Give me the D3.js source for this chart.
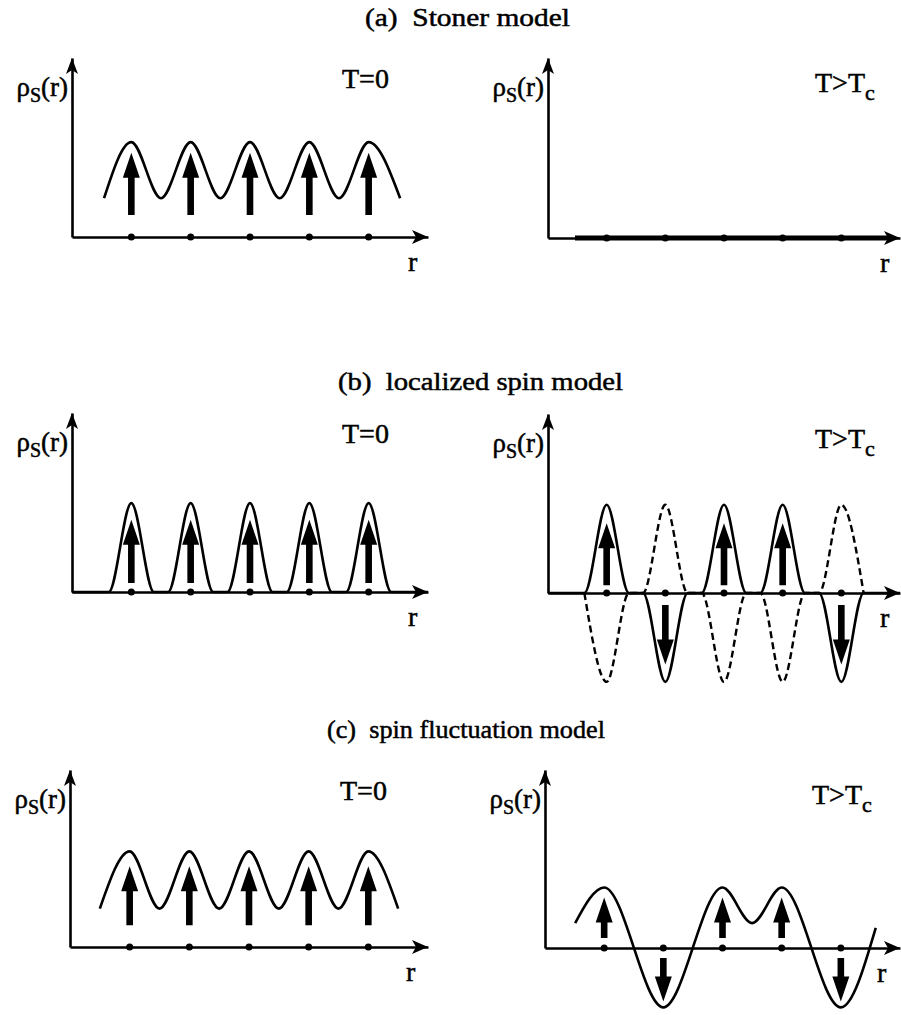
<!DOCTYPE html>
<html>
<head>
<meta charset="utf-8">
<script src="https://cdn.jsdelivr.net/npm/d3@7"></script>
<style>
body { margin: 0; background: #fff; }
text { font-family: "Liberation Serif", "Times New Roman", serif; fill: #000; stroke: #000; stroke-width: 0.5; white-space: pre; }
</style>
</head>
<body>
<script>
// lattice sites along r
var sites = [1, 2, 3, 4, 5];

// (a) Stoner model : [r, rho]
var stonerT0 = [[0.54, 0.65], [1, 1.59], [1.5, 0.65], [2, 1.59], [2.5, 0.65], [3, 1.59],
                [3.5, 0.65], [4, 1.59], [4.5, 0.65], [5, 1.59], [5.53, 0.65]];
var stonerT0Arrows = [[1, 0.37, 1.41], [2, 0.37, 1.41], [3, 0.37, 1.41], [4, 0.37, 1.41], [5, 0.37, 1.41]];
var stonerHighT = [[0.46, 0], [5.85, 0]];

// (b) localized spin model
var localT0 = [[0, 0], [0.62, 0], [1, 1.49], [1.38, 0], [1.62, 0], [2, 1.49], [2.38, 0],
               [2.62, 0], [3, 1.49], [3.38, 0], [3.62, 0], [4, 1.49], [4.38, 0],
               [4.62, 0], [5, 1.49], [5.38, 0], [6, 0]];
var localT0Arrows = [[1, 0.15, 1.21], [2, 0.15, 1.21], [3, 0.15, 1.21], [4, 0.15, 1.21], [5, 0.15, 1.21]];
var localHighT = [[0, 0], [0.62, 0], [1, 1.48], [1.38, 0], [1.62, 0], [2, -1.49], [2.38, 0],
                  [2.62, 0], [3, 1.48], [3.38, 0], [3.62, 0], [4, 1.48], [4.38, 0],
                  [4.62, 0], [5, -1.49], [5.38, 0], [6, 0]];
var localHighTDash = [[0.62, 0], [1, -1.49], [1.38, 0], [1.62, 0], [2, 1.48], [2.38, 0],
                      [2.62, 0], [3, -1.49], [3.38, 0], [3.62, 0], [4, -1.49], [4.38, 0],
                      [4.62, 0], [5, 1.48], [5.38, 0]];
var localHighTArrows = [[1, 0.13, 1.17], [2, -0.2, -1.2], [3, 0.13, 1.17], [4, 0.13, 1.17], [5, -0.2, -1.2]];

// (c) spin fluctuation model
var fluctT0 = [[0.5, 0.65], [1, 1.62], [1.5, 0.65], [2, 1.62], [2.5, 0.65], [3, 1.62],
               [3.5, 0.65], [4, 1.62], [4.5, 0.65], [5, 1.62], [5.5, 0.65]];
var fluctT0Arrows = [[1, 0.37, 1.37], [2, 0.37, 1.37], [3, 0.37, 1.37], [4, 0.37, 1.37], [5, 0.37, 1.37]];
var fluctHighT = [[0.51, 0.42], [1, 1.02], [2, -1.0], [3, 1.02], [3.5, 0.42], [4, 1.02], [5, -1.0], [5.59, 0.34]];
var fluctHighTArrows = [[1, 0.17, 0.85], [2, -0.17, -0.9], [3, 0.17, 0.85], [4, 0.17, 0.85], [5, -0.17, -0.9]];

var titles = ["(a)  Stoner model", "(b)  localized spin model", "(c)  spin fluctuation model"];
var titlePos = [[365, 26, 205], [338, 390, 285], [327, 738, 278]];

var width = 901, height = 1015;

var svg = d3.select("body").append("svg")
    .attr("width", width)
    .attr("height", height);

svg.selectAll("text.title")
    .data(titles)
    .enter()
    .append("text")
    .attr("class", "title")
    .attr("x", (d, i) => titlePos[i][0])
    .attr("y", (d, i) => titlePos[i][1])
    .attr("textLength", (d, i) => titlePos[i][2])
    .attr("lengthAdjust", "spacingAndGlyphs")
    .attr("font-size", 26)
    .text(d => d);

var panels = [
    {ox: 72, x1: 428, oy: 237, top: 58, low: true, curve: stonerT0, arrows: stonerT0Arrows},
    {ox: 548, x1: 900, oy: 238, top: 58, low: false, thick: stonerHighT, arrows: []},
    {ox: 72, x1: 428, oy: 592, top: 413, low: true, curve: localT0, arrows: localT0Arrows},
    {ox: 548, x1: 900, oy: 593, top: 414, low: false, curve: localHighT, dashed: localHighTDash, arrows: localHighTArrows},
    {ox: 70, x1: 428, oy: 947, top: 770, low: true, curve: fluctT0, arrows: fluctT0Arrows},
    {ox: 545, x1: 900, oy: 948, top: 770, low: false, curve: fluctHighT, arrows: fluctHighTArrows}
];

panels.forEach(drawPanel);

function drawPanel(p) {
    var g = svg.append("g");

    var x = d3.scaleLinear().domain([0, 6]).range([p.ox, p.x1]);
    var y = d3.scaleLinear().domain([0, 3]).range([p.oy, p.top]);

    var line = d3.line()
        .x(d => x(d[0]))
        .y(d => y(d[1]))
        .curve(d3.curveMonotoneX);

    // axes, no ticks
    g.append("g")
        .attr("transform", "translate(0," + p.oy + ")")
        .call(d3.axisBottom(x).tickValues([]).tickSizeOuter(0));
    g.append("g")
        .attr("transform", "translate(" + p.ox + ",0)")
        .call(d3.axisLeft(y).tickValues([]).tickSizeOuter(0));
    g.selectAll(".domain").attr("stroke", "#000").attr("stroke-width", 2.6);

    // axis arrowheads
    g.append("path")
        .attr("d", "M" + x(6) + "," + p.oy + "l-16,-7l4,7l-4,7z")
        .attr("fill", "#000");
    g.append("path")
        .attr("d", "M" + p.ox + "," + y(3) + "l-6,16l6,-4l6,4z")
        .attr("fill", "#000");

    if (p.thick) {
        g.append("path")
            .attr("d", line(p.thick))
            .attr("fill", "none")
            .attr("stroke", "#000")
            .attr("stroke-width", 5);
    }
    if (p.dashed) {
        g.append("path")
            .attr("d", line(p.dashed))
            .attr("fill", "none")
            .attr("stroke", "#000")
            .attr("stroke-width", 2.4)
            .attr("stroke-dasharray", "7,4");
    }
    if (p.curve) {
        g.append("path")
            .attr("d", line(p.curve))
            .attr("fill", "none")
            .attr("stroke", "#000")
            .attr("stroke-width", 2.6);
    }

    // site dots
    g.selectAll("circle")
        .data(sites)
        .enter()
        .append("circle")
        .attr("cx", d => x(d))
        .attr("cy", p.oy)
        .attr("r", 3.5)
        .attr("fill", "#000");

    // spin arrows
    g.selectAll("path.spin")
        .data(p.arrows)
        .enter()
        .append("path")
        .attr("class", "spin")
        .attr("fill", "#000")
        .attr("d", function(d) {
            var cx = x(d[0]), y0 = y(d[1]), y1 = y(d[2]);
            var dir = y1 < y0 ? -1 : 1;
            var hl = 25, hw = 8.5, sw = 3.3;
            var yb = y1 - dir * hl;
            return "M" + (cx - sw) + "," + y0 + "L" + (cx - sw) + "," + yb +
                "L" + (cx - hw) + "," + yb + "L" + cx + "," + y1 +
                "L" + (cx + hw) + "," + yb + "L" + (cx + sw) + "," + yb +
                "L" + (cx + sw) + "," + y0 + "Z";
        });

    // labels
    var lab = g.append("text")
        .attr("x", p.ox - 4)
        .attr("y", p.top + 38)
        .attr("text-anchor", "end")
        .attr("font-size", 27);
    lab.append("tspan").text("ρ");
    lab.append("tspan").attr("font-size", 20).attr("dy", 6).text("S");
    lab.append("tspan").attr("dy", -6).text("(r)");

    g.append("text")
        .attr("x", p.low ? p.ox + 336 : p.ox + 332)
        .attr("y", p.oy + 34)
        .attr("font-size", 28)
        .text("r");

    var t = g.append("text")
        .attr("y", p.top + (p.low ? 30 : 34))
        .attr("font-size", 28);
    if (p.low) {
        t.attr("x", p.ox + 270).text("T=0");
    } else {
        t.attr("x", p.ox + 267);
        t.append("tspan").text("T>T");
        t.append("tspan").attr("font-size", 22).attr("dy", 8).text("c");
    }
}
</script>
</body>
</html>
